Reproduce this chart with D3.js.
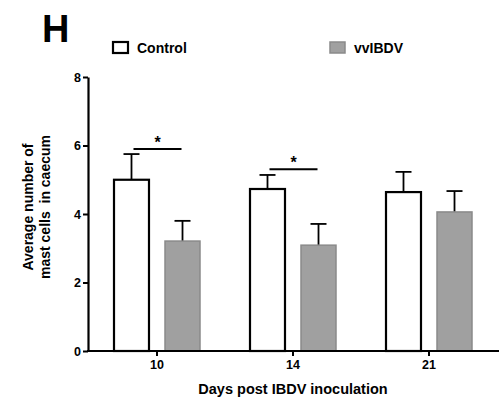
<!DOCTYPE html>
<html><head><meta charset="utf-8">
<script src="https://cdn.jsdelivr.net/npm/d3@7"></script>
<style>body{margin:0;background:#fff}svg{display:block;font-family:"Liberation Sans",Arial,sans-serif}</style>
</head><body>
<svg id="c" width="499" height="402"></svg>
<script>
const categories = ["10", "14", "21"];
const groups = ["Control", "vvIBDV"];
const controlMeans = [5.0, 4.73, 4.64];
const controlErr = [0.75, 0.41, 0.59];
const vvMeans = [3.21, 3.09, 4.06];
const vvErr = [0.59, 0.62, 0.61];
const yTicks = [0, 2, 4, 6, 8];
const sigPairs = [{cat: "10", level: 5.9}, {cat: "14", level: 5.31}];

const svg = d3.select("#c");
const y = d3.scaleLinear().domain([0, 8]).range([351, 77]);
const x0 = d3.scaleBand().domain(categories).range([89, 497]);
const half = x0.bandwidth() / 2;
const x1 = d3.scaleBand().domain(groups).range([half - 43, half + 43]).paddingInner(0.314);

const data = categories.map((c, i) => ({
  cat: c,
  vals: [
    {g: "Control", v: controlMeans[i], e: controlErr[i]},
    {g: "vvIBDV", v: vvMeans[i], e: vvErr[i]}
  ]
}));

const style = {
  Control: {fill: "#fff", stroke: "#000", sw: 2.2},
  vvIBDV: {fill: "#a0a0a0", stroke: "#8a8a8a", sw: 1.5}
};

const g = svg.append("g");
const cg = g.selectAll("g.cat").data(data).join("g")
  .attr("transform", d => `translate(${x0(d.cat)},0)`);

// error bars (behind bars)
cg.selectAll("g.err").data(d => d.vals).join("g").each(function(d) {
  const sel = d3.select(this);
  const cx = x1(d.g) + x1.bandwidth() / 2;
  sel.append("line").attr("x1", cx).attr("x2", cx).attr("y1", y(d.v)).attr("y2", y(d.v + d.e))
    .attr("stroke", "#000").attr("stroke-width", 1.8);
  sel.append("line").attr("x1", cx - 8).attr("x2", cx + 8).attr("y1", y(d.v + d.e)).attr("y2", y(d.v + d.e))
    .attr("stroke", "#000").attr("stroke-width", 1.8);
});

cg.selectAll("rect").data(d => d.vals).join("rect")
  .attr("x", d => x1(d.g))
  .attr("width", x1.bandwidth())
  .attr("y", d => y(d.v))
  .attr("height", d => y(0) - y(d.v))
  .attr("fill", d => style[d.g].fill)
  .attr("stroke", d => style[d.g].stroke)
  .attr("stroke-width", d => style[d.g].sw);

// significance
sigPairs.forEach(s => {
  const xa = x0(s.cat) + x1("Control") + x1.bandwidth() / 2 + 2;
  const xb = x0(s.cat) + x1("vvIBDV") + x1.bandwidth() / 2 - 1;
  svg.append("line").attr("x1", xa).attr("x2", xb).attr("y1", y(s.level)).attr("y2", y(s.level))
    .attr("stroke", "#000").attr("stroke-width", 2);
  svg.append("text").attr("x", (xa + xb) / 2).attr("y", y(s.level) - 1)
    .attr("text-anchor", "middle").attr("font-size", 16).attr("font-weight", "bold").text("*");
});

// y axis
const ya = svg.append("g").attr("transform", "translate(88,0)")
  .call(d3.axisLeft(y).tickValues(yTicks).tickSize(5).tickSizeOuter(0).tickPadding(2));
ya.select(".domain").attr("stroke-width", 2.2);
ya.selectAll(".tick line").attr("stroke-width", 2);
ya.selectAll("text").attr("font-size", 12.5).attr("font-weight", "bold").attr("font-family", "Liberation Sans, Arial, sans-serif").attr("fill", "#000");

// x axis
const xa = svg.append("g").attr("transform", "translate(0,351)")
  .call(d3.axisBottom(x0).tickSize(5).tickSizeOuter(0).tickPadding(4));
xa.select(".domain").attr("d", "M87,0H499").attr("stroke-width", 2.2);
xa.selectAll(".tick line").attr("stroke-width", 2);
xa.selectAll("text").attr("font-size", 12.5).attr("font-weight", "bold").attr("font-family", "Liberation Sans, Arial, sans-serif").attr("fill", "#000");

// labels
svg.append("text").attr("x", 293).attr("y", 394).attr("text-anchor", "middle")
  .attr("font-size", 14.5).attr("font-weight", "bold").text("Days post IBDV inoculation");
const yl = svg.append("text").attr("transform", "translate(0,207) rotate(-90)")
  .attr("text-anchor", "middle").attr("font-size", 14).attr("font-weight", "bold");
yl.append("tspan").attr("x", 0).attr("y", 33).text("Average number of");
yl.append("tspan").attr("x", 0).attr("y", 50).attr("style", "white-space:pre").text("mast cells  in caecum");

svg.append("text").attr("x", 42).attr("y", 42).attr("font-size", 38).attr("font-weight", "bold").text("H");

// legend
const legX = [113, 330];
groups.forEach((gname, i) => {
  svg.append("rect").attr("x", legX[i]).attr("y", 42).attr("width", 15).attr("height", 11)
    .attr("fill", style[gname].fill).attr("stroke", style[gname].stroke).attr("stroke-width", style[gname].sw);
  svg.append("text").attr("x", legX[i] + 24).attr("y", 53).attr("font-size", 14).attr("font-weight", "bold").text(gname);
});
</script>
</body></html>
